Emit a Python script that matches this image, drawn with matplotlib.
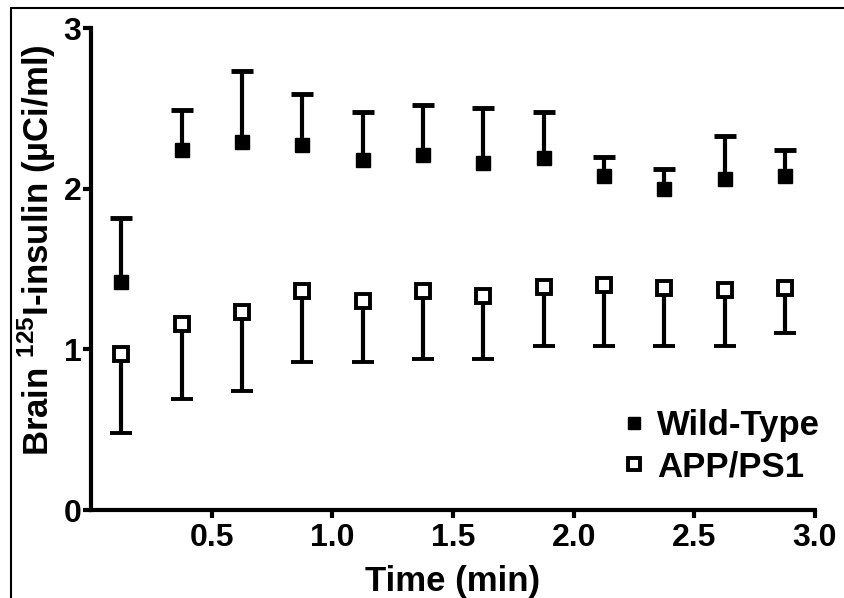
import numpy as np
import matplotlib
matplotlib.use('Agg')
from matplotlib import pyplot as plt
from matplotlib.patches import Rectangle

plt.rcParams['font.family'] = ['Liberation Sans', 'DejaVu Sans']
plt.rcParams['font.weight'] = 'bold'
plt.rcParams['mathtext.fontset'] = 'custom'
plt.rcParams['mathtext.rm'] = 'Liberation Sans'
plt.rcParams['mathtext.bf'] = 'Liberation Sans:bold'

# data
time = [0.125, 0.375, 0.625, 0.875, 1.125, 1.375, 1.625, 1.875, 2.125, 2.375, 2.625, 2.875]
wt_mean = [1.42, 2.24, 2.29, 2.27, 2.18, 2.21, 2.16, 2.19, 2.08, 2.00, 2.06, 2.08]
wt_err = [0.40, 0.25, 0.44, 0.32, 0.30, 0.31, 0.34, 0.29, 0.12, 0.12, 0.27, 0.16]
app_mean = [0.97, 1.16, 1.23, 1.36, 1.30, 1.36, 1.33, 1.39, 1.40, 1.38, 1.37, 1.38]
app_err = [0.49, 0.47, 0.49, 0.44, 0.38, 0.42, 0.39, 0.37, 0.38, 0.36, 0.35, 0.28]
xticks = [0.5, 1.0, 1.5, 2.0, 2.5, 3.0]
yticks = [0, 1, 2, 3]

fig = plt.figure(figsize=(8.44, 5.98), dpi=100)
fig.patches.append(Rectangle((11/844, -0.05), 1.0, 1.05 - 8/598, transform=fig.transFigure,
                             fill=False, edgecolor='black', linewidth=1.5))
ax = fig.add_axes([91/844, 88/598, 724/844, 482/598])

zeros = np.zeros(len(time))
wt = ax.errorbar(time, wt_mean, yerr=[zeros, wt_err], fmt='s', color='black', ms=10,
                 mfc='black', mec='black', elinewidth=3, capsize=8, capthick=3.5,
                 label='Wild-Type', clip_on=False, zorder=3)
app = ax.errorbar(time, app_mean, yerr=[app_err, zeros], fmt='s', color='black', ms=10,
                  mfc='white', mec='black', mew=2.8, elinewidth=3, capsize=8, capthick=3.5,
                  label='APP/PS1', clip_on=False, zorder=3)
# hide the caps on the zero-length side
wt[1][0].set_visible(False)
app[1][1].set_visible(False)

ax.set_xlim(0, 3.0)
ax.set_ylim(0, 3)
ax.set_xticks(xticks)
ax.set_xticklabels(['0.5', '1.0', '1.5', '2.0', '2.5', '3.0'])
ax.set_yticks(yticks)
for s in ['top', 'right']:
    ax.spines[s].set_visible(False)
for s in ['left', 'bottom']:
    ax.spines[s].set_linewidth(3)
ax.tick_params(width=3, length=6, labelsize=23)
ax.tick_params(axis='x', pad=3)
ax.tick_params(axis='y', pad=1)
ax.set_xlabel('Time (min)', fontsize=25, fontweight='bold', labelpad=9)
ax.set_ylabel('Brain $^{\\mathregular{125}}$I-insulin (µCi/ml)', fontsize=25,
              fontweight='bold')
ax.yaxis.set_label_coords(-0.045, 0.54)

h, l = ax.get_legend_handles_labels()
h = [hh[0] for hh in h]
ax.legend(h, l, loc='lower right', bbox_to_anchor=(1.05, -0.01), frameon=False,
          handlelength=0.5, handletextpad=0.4, markerscale=0.85,
          labelspacing=0.25, prop={'weight': 'bold', 'size': 25})

fig.savefig('out.png', dpi=100)
